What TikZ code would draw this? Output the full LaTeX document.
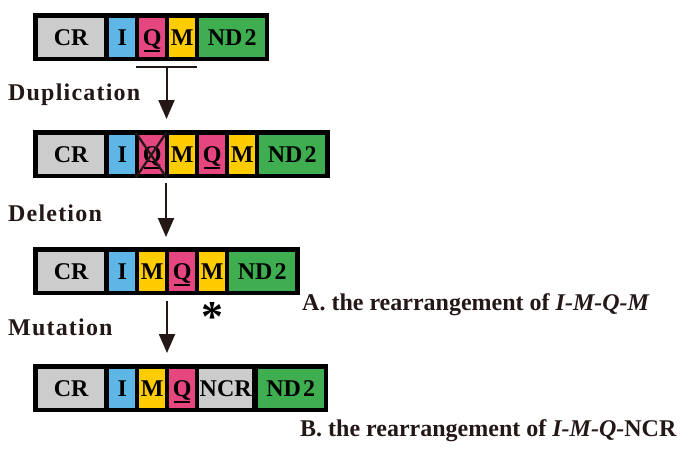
\documentclass[tikz,border=0pt]{standalone}
\usepackage{fontspec}
\setmainfont{Liberation Serif}
\usetikzlibrary{arrows.meta,calc}
\definecolor{ink}{RGB}{35,24,21}
\definecolor{crgray}{RGB}{204,204,204}
\definecolor{iblue}{RGB}{94,182,230}
\definecolor{qpink}{RGB}{229,70,128}
\definecolor{myellow}{RGB}{255,204,0}
\definecolor{ndgreen}{RGB}{62,174,80}
\newcommand{\qline}{\setbox0\hbox{Q}\rlap{\kern1.5pt\rule[-6pt]{\dimexpr\wd0-3pt\relax}{2pt}}\box0}
\begin{document}
\begin{tikzpicture}[x=1pt,y=-1pt,
  strip/.style={fill=black, anchor=north west, minimum height=48pt, inner sep=0pt},
  cell/.style={anchor=north west, minimum height=39pt, inner sep=0pt, text=black,
    text height=17pt, text depth=0pt, font=\fontsize{24}{24}\selectfont\bfseries},
  wide/.style={cell, minimum width=66pt},
  narrow/.style={cell, minimum width=26pt},
  steplabel/.style={anchor=base west, inner sep=0pt, text=ink,
    font=\fontsize{24}{24}\selectfont\bfseries\addfontfeature{LetterSpace=5}},
  caption/.style={anchor=base west, inner sep=0pt, text=ink,
    font=\fontsize{24}{24}\selectfont\bfseries},
  arr/.style={-{Triangle[length=19pt,width=16pt]}, line width=2pt, draw=ink},
  strokeline/.style={line width=2.2pt, draw=ink}]
\useasboundingbox (0,0) rectangle (690,452);

% original order
\node[strip, minimum width=236pt] (r1) at (33,13){};
\node[wide, fill=crgray] (cr1) at (38,17.5){CR};
\node[narrow, fill=iblue] (i1) at (109,17.5){I};
\node[narrow, fill=qpink] (q1) at (139,17.5){\qline};
\node[narrow, fill=myellow] (m1) at (169,17.5){M};
\node[wide, fill=ndgreen] (nd1) at (199,17.5){ND\kern2pt2};
\coordinate (bl) at (136,67);
\coordinate (br) at (197,67);
\coordinate (dup) at (166.5,67);
\draw[strokeline] (bl) -- (br);
\node[steplabel] (tdup) at (8,100){Duplication};

% after duplication
\node[strip, minimum width=297pt] (r2) at (33,130){};
\node[wide, fill=crgray] (cr2) at (38,134.5){CR};
\node[narrow, fill=iblue] (i2) at (109,134.5){I};
\node[narrow, fill=qpink] (qx) at (139,134.5){\qline};
\node[narrow, fill=myellow] (m2a) at (169,134.5){M};
\node[narrow, fill=qpink] (q2) at (199,134.5){\qline};
\node[narrow, fill=myellow] (m2b) at (229,134.5){M};
\node[wide, fill=ndgreen] (nd2) at (259,134.5){ND\kern2pt2};
\draw[strokeline] ($(qx.north west)+(-3,-1.5)$) -- ($(qx.south east)+(1,3.5)$);
\draw[strokeline] ($(qx.south west)+(-3,3.5)$) -- ($(qx.north east)+(1,-2)$);
\draw[arr, shorten >=11pt] (dup) -- (dup |- r2.north);
\coordinate (del) at (166,183);
\node[steplabel] (tdel) at (8,221){Deletion};

% I-M-Q-M
\node[strip, minimum width=267pt] (r3) at (33,247){};
\node[wide, fill=crgray] (cr3) at (38,251.5){CR};
\node[narrow, fill=iblue] (i3) at (109,251.5){I};
\node[narrow, fill=myellow] (m3a) at (139,251.5){M};
\node[narrow, fill=qpink] (q3) at (169,251.5){\qline};
\node[narrow, fill=myellow] (m3b) at (199,251.5){M};
\node[wide, fill=ndgreen] (nd3) at (229,251.5){ND\kern2pt2};
\draw[arr, shorten >=10pt] (del) -- (del |- r3.north);
\node[anchor=base, inner sep=0pt, text=black, font=\fontsize{44}{44}\selectfont\bfseries] (star) at (212,331){*};
\node[caption] (capa) at (302,310){A. the rearrangement of \textit{I-M-Q-M}};
\coordinate (mut) at (167,301);
\node[steplabel] (tmut) at (8,335){Mutation};

% I-M-Q-NCR
\node[strip, minimum width=295pt] (r4) at (33,364){};
\node[wide, fill=crgray] (cr4) at (38,368.5){CR};
\node[narrow, fill=iblue] (i4) at (109,368.5){I};
\node[narrow, fill=myellow] (m4) at (139,368.5){M};
\node[narrow, fill=qpink] (q4) at (169,368.5){\qline};
\node[cell, minimum width=53pt, fill=crgray] (ncr4) at (199,368.5){NCR};
\node[wide, fill=ndgreen] (nd4) at (257.5,368.5){ND\kern2pt2};
\draw[arr, shorten >=11pt] (mut) -- (mut |- r4.north);
\node[caption] (capb) at (300,436){B. the rearrangement of \textit{I-M-Q-}NCR};
\end{tikzpicture}
\end{document}
